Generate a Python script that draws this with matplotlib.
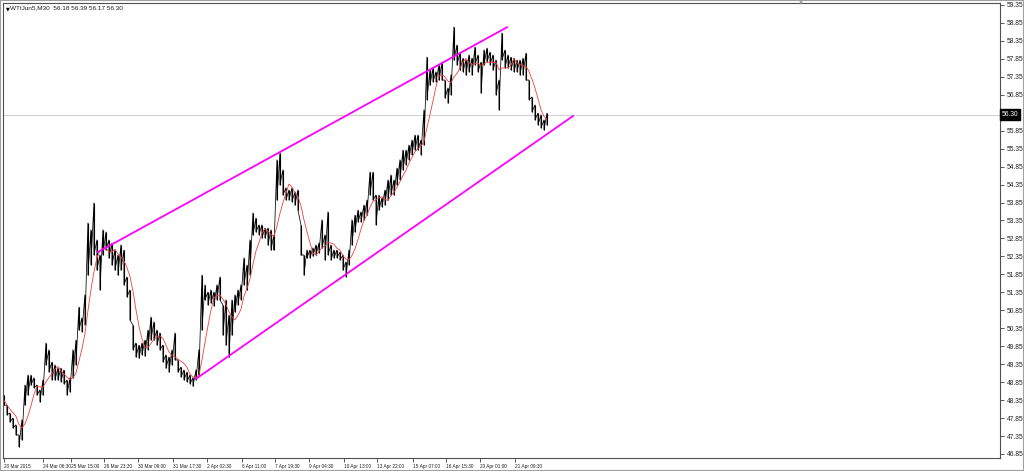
import numpy as np
import pandas as pd
import matplotlib
matplotlib.use('Agg')
import matplotlib.pyplot as plt

high = [48.49, 48.21, 47.99, 47.85, 47.66, 47.38, 47.80, 48.77, 49.05, 49.05,
        48.97, 48.77, 48.63, 48.91, 49.94, 49.75, 49.41, 49.33, 49.24, 49.24,
        49.19, 48.91, 48.97, 49.75, 50.02, 50.94, 50.64, 51.28, 53.28, 53.09,
        53.84, 52.81, 52.39, 53.09, 53.03, 52.81, 52.72, 52.53, 52.39, 52.67,
        52.53, 51.78, 51.42, 50.44, 49.94, 49.88, 49.94, 50.02, 50.30, 50.66,
        50.53, 50.30, 50.22, 49.88, 49.61, 49.55, 49.75, 50.22, 49.47, 49.27,
        49.19, 49.13, 49.05, 48.97, 49.19, 49.75, 51.83, 51.56, 51.36, 51.42,
        51.36, 51.56, 51.78, 51.00, 51.14, 50.72, 51.14, 51.28, 51.42, 51.56,
        52.31, 52.11, 52.81, 53.56, 53.42, 53.23, 53.23, 53.14, 53.14, 53.09,
        52.95, 55.04, 55.23, 54.76, 54.26, 54.20, 54.26, 54.15, 54.20, 53.23,
        52.39, 52.53, 52.53, 52.59, 52.67, 52.72, 53.37, 52.95, 53.59, 52.67,
        52.53, 52.53, 52.47, 52.39, 52.20, 52.53, 53.37, 53.50, 53.64, 53.59,
        53.78, 53.92, 54.70, 54.70, 54.06, 54.06, 53.98, 54.20, 54.48, 54.62,
        54.48, 54.81, 55.04, 55.31, 55.31, 55.45, 55.59, 55.73, 55.73, 55.59,
        56.43, 57.90, 57.54, 57.60, 57.49, 57.68, 57.74, 57.26, 57.04, 57.40,
        58.74, 58.24, 58.01, 57.87, 57.82, 57.96, 57.87, 58.18, 57.96, 57.76,
        58.10, 58.15, 58.04, 57.96, 57.82, 57.26, 58.57, 58.10, 57.96, 57.90,
        57.87, 57.82, 57.82, 57.87, 58.01, 57.26, 56.79, 56.57, 56.34, 56.29,
        56.15, 56.34]
low = [48.21, 47.94, 47.74, 47.57, 47.38, 47.05, 47.24, 48.21, 48.49, 48.77,
       48.69, 48.49, 48.30, 48.49, 49.33, 49.13, 48.91, 48.91, 48.91, 48.86,
       48.80, 48.49, 48.58, 48.97, 49.33, 50.30, 50.25, 50.44, 51.83, 52.11,
       52.39, 51.97, 51.42, 52.39, 52.53, 52.31, 52.11, 51.97, 51.83, 51.97,
       51.56, 51.22, 50.58, 49.75, 49.55, 49.52, 49.61, 49.58, 49.75, 50.02,
       50.02, 49.88, 49.75, 49.41, 49.24, 49.13, 49.33, 49.47, 49.13, 48.99,
       48.91, 48.86, 48.80, 48.74, 48.91, 49.05, 50.30, 51.14, 51.00, 51.05,
       50.97, 51.14, 51.14, 50.16, 49.88, 49.55, 50.16, 50.80, 51.00, 51.14,
       51.56, 51.42, 51.83, 52.95, 53.03, 52.95, 52.86, 52.86, 52.67, 52.53,
       52.53, 53.92, 54.34, 54.06, 53.92, 53.92, 53.87, 53.78, 53.64, 52.39,
       51.83, 52.31, 52.31, 52.36, 52.39, 52.45, 52.59, 52.25, 52.39, 52.25,
       52.31, 52.31, 52.25, 51.97, 51.78, 52.11, 52.67, 53.03, 53.31, 53.31,
       53.37, 53.50, 54.06, 53.92, 53.23, 53.64, 53.73, 53.78, 53.92, 54.06,
       54.06, 54.34, 54.48, 54.76, 54.90, 55.04, 55.18, 55.31, 55.31, 55.18,
       55.45, 56.71, 57.12, 57.21, 57.21, 57.26, 57.26, 56.76, 56.62, 56.85,
       57.82, 57.68, 57.54, 57.49, 57.40, 57.49, 57.40, 57.68, 57.49, 56.90,
       57.68, 57.76, 57.68, 57.54, 56.85, 56.43, 57.82, 57.60, 57.60, 57.54,
       57.49, 57.49, 57.40, 57.40, 57.26, 56.71, 56.37, 56.15, 56.01, 55.93,
       55.87, 56.01]

# trend lines (bar position, price)
upper_line = ([31.3, 167.7], [52.47, 58.73])
lower_line = ([64.0, 189.7], [48.94, 56.26])

last_price = 56.30
title = "WTIJun5,M30  56.18 56.39 56.17 56.30"

price_ticks = [59.35, 58.85, 58.35, 57.85, 57.35, 56.85, 55.85, 55.35, 54.85,
               54.35, 53.85, 53.35, 52.85, 52.35, 51.85, 51.35, 50.85, 50.35,
               49.85, 49.35, 48.85, 48.35, 47.85, 47.35, 46.85]
time_pos = [0, 13.0, 22.2, 33.5, 44.8, 56.2, 67.8, 79.2, 90.5, 101.8, 113.2,
            124.5, 136.2, 147.5, 158.8, 170.5]
time_labels = ["20 Mar 2015", "24 Mar 06:30", "25 Mar 15:00", "26 Mar 23:30",
               "30 Mar 09:00", "31 Mar 17:30", "2 Apr 02:30", "6 Apr 11:00",
               "7 Apr 19:30", "9 Apr 04:30", "10 Apr 13:00", "13 Apr 22:00",
               "15 Apr 07:00", "16 Apr 15:30", "20 Apr 01:00", "21 Apr 09:30"]

df = pd.DataFrame({'high': high, 'low': low})
df['mid'] = (df['high'] + df['low']) / 2
df['ma'] = df['mid'].rolling(5, min_periods=1).mean()
x = np.arange(len(df))

plt.rcParams['font.family'] = ['Liberation Sans', 'DejaVu Sans']
fig = plt.figure(figsize=(10.24, 4.71), dpi=100)
ax = fig.add_axes([3/1024, 13/471, 997/1024, 455/471])

# current price line
ax.axhline(last_price, color='#c8c8c8', lw=0.6, zorder=1)

# bars: vertical high-low plus zigzag joining them
ax.vlines(x, df['low'], df['high'], color='black', lw=0.8, zorder=2)
zx = np.repeat(x, 2)
zy = np.column_stack([df['high'], df['low']]).ravel()
ax.plot(zx, zy, color='black', lw=0.55, zorder=2)
ax.plot(x, df['ma'], color='#f04040', lw=0.6, zorder=3)

ax.plot(upper_line[0], upper_line[1], color='#ff00ff', lw=1.3, zorder=4)
ax.plot(lower_line[0], lower_line[1], color='#ff00ff', lw=1.3, zorder=4)

ax.set_xlim(-0.3, 332.0)
ax.set_ylim(46.738, 59.405)

ax.yaxis.tick_right()
ax.set_yticks(price_ticks)
ax.set_yticklabels([f"{v:.2f}" for v in price_ticks])
ax.tick_params(axis='y', length=3, width=0.6, color='#404040', labelsize=4.8, pad=2,
               labelcolor='#202020')
ax.set_xticks(time_pos)
ax.set_xticklabels(time_labels, ha='left')
ax.tick_params(axis='x', length=3, width=0.6, color='#404040', labelsize=3.4, pad=1.5,
               labelcolor='#202020')

for s in ['left', 'right', 'bottom', 'top']:
    ax.spines[s].set_color('#505050')
    ax.spines[s].set_linewidth(0.8)

# price label box on the right axis
ax.text(1.002, last_price, f"{last_price:.2f}", transform=ax.get_yaxis_transform(),
        va='center', ha='left', fontsize=4.8, color='white', clip_on=False,
        bbox=dict(boxstyle='square,pad=0.25', fc='black', ec='black'))

# title in the top left corner
ax.text(0.003, 0.993, "\u25bc", transform=ax.transAxes, fontsize=3.5, va='top',
        ha='left', color='black', family='DejaVu Sans')
ax.text(0.0075, 0.995, title, transform=ax.transAxes, fontsize=4.6, va='top',
        ha='left', color='#202020')

# chart shift marker
fig.text(801/1024, 1 - 3/471, "\u25bc", fontsize=4, color='#a0a0a0', ha='center',
         va='center', family='DejaVu Sans')

# outer frame
fig.patches.append(plt.Rectangle((0, 0), 1, 1, transform=fig.transFigure, fill=False,
                                 ec='#a0a0a0', lw=1.5))

fig.savefig('out.png', dpi=100)
